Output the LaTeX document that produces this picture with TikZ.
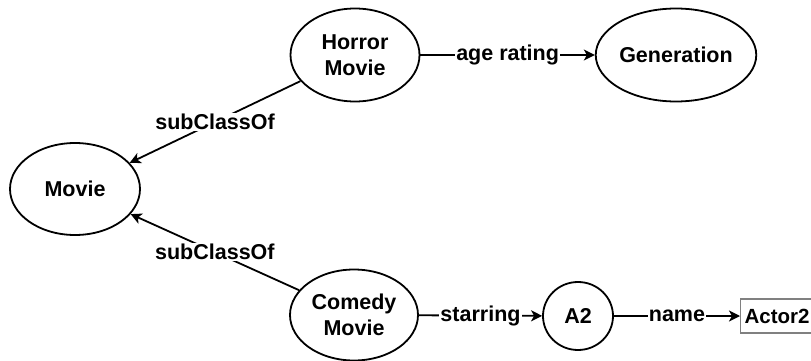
\documentclass[tikz,border=0pt]{standalone}
\usepackage{fontspec}
\setmainfont{Liberation Sans}
\usetikzlibrary{shapes.geometric,arrows.meta}
\begin{document}
\begin{tikzpicture}[x=1pt,y=-1pt,
  every node/.style={font=\bfseries\fontsize{21.5}{26}\selectfont, text=black},
  ell/.style={ellipse, draw, line width=1.8pt, inner sep=0pt, align=center},
  conn/.style={line width=1.8pt, -{Stealth[length=11pt,width=11pt,inset=3pt]}},
  lbl/.style={fill=white, inner sep=1pt}]
\useasboundingbox (0,0) rectangle (811,361);
\clip (0,0) rectangle (811,361);
\node[ell, minimum width=129pt, minimum height=93pt] (horror) at (355,55) {Horror\\Movie};
\node[ell, minimum width=128pt, minimum height=93pt] (gen) at (676,55) {Generation};
\node[ell, minimum width=130pt, minimum height=92pt] (movie) at (75,189) {Movie};
\node[ell, minimum width=128pt, minimum height=91pt] (comedy) at (354,315) {Comedy\\Movie};
\node[ell, minimum width=70pt, minimum height=68pt] (a2) at (578,316) {A2};
\node[draw=gray, line width=1.2pt, minimum height=34pt, minimum width=80pt, inner sep=0pt, anchor=west, text width=76pt, align=left] (actor) at (740,316) {\fontsize{20.5}{24}\selectfont\hspace{2pt}Actor2};
\draw[conn] (horror) -- node[lbl] {age rating} (gen);
\draw[conn] (horror) -- node[lbl] {subClassOf} (movie);
\draw[conn] (comedy) -- node[lbl] {subClassOf} (movie);
\draw[conn] (comedy) -- node[lbl] {starring} (a2);
\draw[conn] (a2) -- node[lbl] {name} (actor);
\end{tikzpicture}
\end{document}
